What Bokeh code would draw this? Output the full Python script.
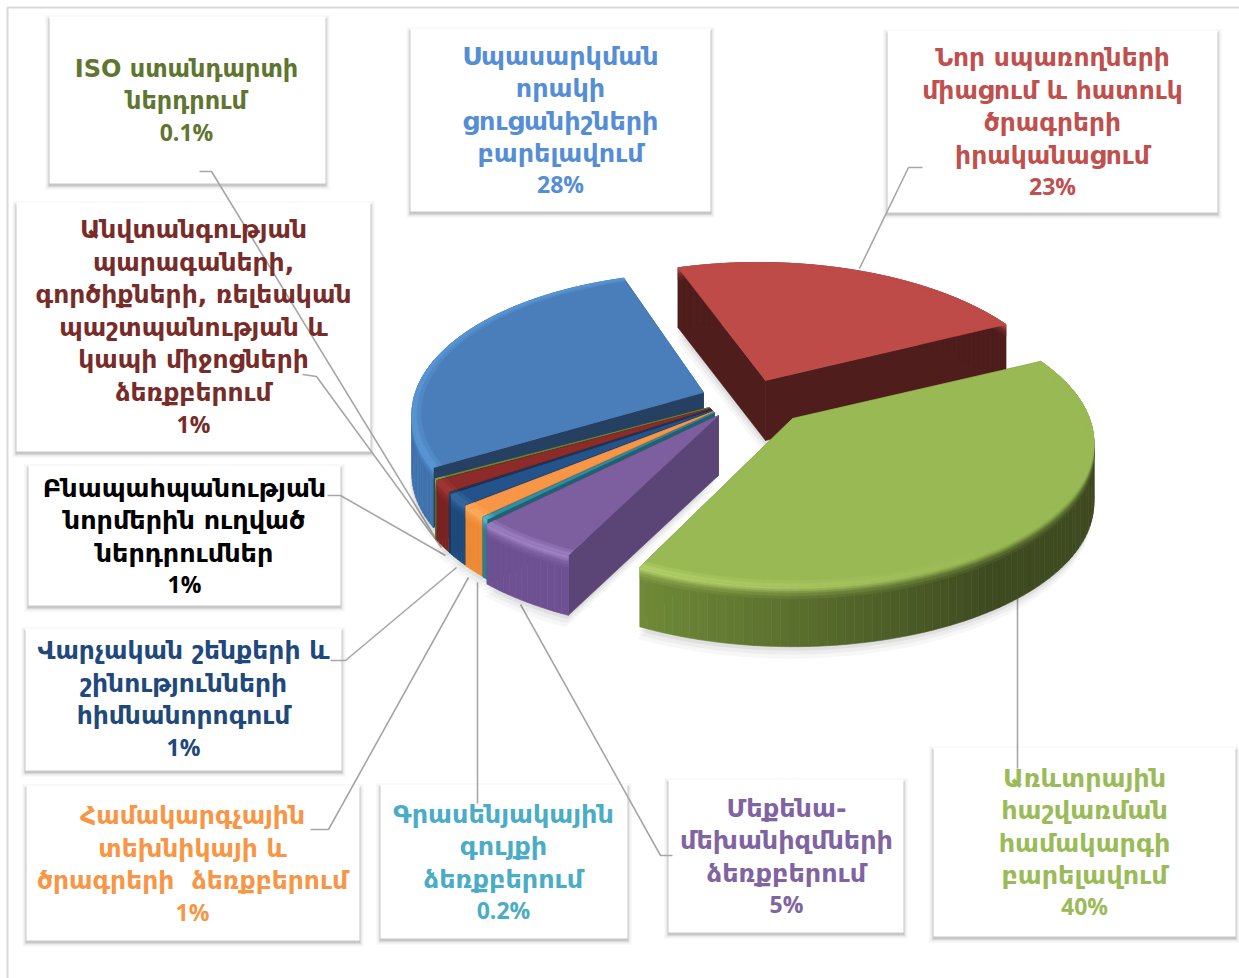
import math
from bokeh.plotting import figure
from bokeh.models import ColumnDataSource, Range1d
from bokeh.core.properties import value
from bokeh.embed import file_html
from bokeh.resources import INLINE

# ---------- data ----------
categories = [
    "Նոր սպառողների միացում և հատուկ ծրագրերի իրականացում",
    "Առևտրային հաշվառման համակարգի բարելավում",
    "Մեքենա-մեխանիզմների ձեռքբերում",
    "Գրասենյակային գույքի ձեռքբերում",
    "Համակարգչային տեխնիկայի և ծրագրերի ձեռքբերում",
    "Վարչական շենքերի և շինությունների հիմնանորոգում",
    "Բնապահպանության նորմերին ուղված ներդրումներ",
    "Անվտանգության պարագաների, գործիքների, ռելեական պաշտպանության և կապի միջոցների ձեռքբերում",
    "ISO ստանդարտի ներդրում",
    "Սպասարկման որակի ցուցանիշների բարելավում",
]
# slice sizes (the labels are rounded)
values = [22.9, 39.4, 5, 0.3, 1.35, 1.35, 0.05, 1.35, 0.1, 28.2]
percent_labels = ["23%", "40%", "5%", "0.2%", "1%", "1%", "1%", "1%", "0.1%", "28%"]
label_lines = [
    ["Նոր սպառողների", "միացում և հատուկ", "ծրագրերի", "իրականացում"],
    ["Առևտրային", "հաշվառման", "համակարգի", "բարելավում"],
    ["Մեքենա-", "մեխանիզմների", "ձեռքբերում"],
    ["Գրասենյակային", "գույքի", "ձեռքբերում"],
    ["Համակարգչային", "տեխնիկայի և", "ծրագրերի\u00a0 ձեռքբերում"],
    ["Վարչական շենքերի և", "շինությունների", "հիմնանորոգում"],
    ["Բնապահպանության", "նորմերին ուղված", "ներդրումներ"],
    ["Անվտանգության", "պարագաների,", "գործիքների, ռելեական", "պաշտպանության և", "կապի միջոցների", "ձեռքբերում"],
    ["ISO ստանդարտի", "ներդրում"],
    ["Սպասարկման", "որակի", "ցուցանիշների", "բարելավում"],
]

# ---------- styling / layout ----------
top_col = ["#be4b48", "#98b954", "#7d5fa0", "#2f8ea8", "#f79646", "#23538a", "#1b3d63", "#8c2b29", "#71893a", "#4a7ebb"]
wall_dark = ["#4f1d1b", "#3e4a20", "#5b4577", "#2b8094", "#d9822f", "#1f4a7c", "#1b3d63", "#6e2220", "#5c7030", "#3f72ae"]
wall_light = ["#4f1d1b", "#6f8a38", "#6e5192", "#2b8094", "#ec8a35", "#1f4a7c", "#1b3d63", "#7a2422", "#5c7030", "#3f72ae"]
glow_col = ["#c05a58", "#b9d56e", "#a487c8", "#5fc0d8", "#ffb060", "#3a6ea8", "#264b74", "#a83a38", "#8ea64d", "#5f9ddc"]
face_col = ["#4f1d1b", "#66802f", "#5b4577", "#225f70", "#b86c2a", "#17375e", "#10263e", "#5a1c1a", "#3f4e20", "#254061"]
text_col = ["#c0504d", "#9bbb59", "#8064a2", "#4bacc6", "#f79646", "#1f497d", "#000000", "#772c2a", "#5f7530", "#558ed5"]
apex = [(765, 380), (792, 418), (718, 415), (714, 412), (713, 411), (712, 410), (711, 409), (710, 408), (709, 407), (703, 392)]
rad = [290, 297, 297, 292, 292, 292, 292, 292, 292, 288]
tilt = [0.47, 0.47, 0.45, 0.45, 0.45, 0.45, 0.45, 0.45, 0.45, 0.48]
persp = [0.155, 0.17, 0.155, 0.155, 0.155, 0.155, 0.155, 0.155, 0.155, 0.155]
skew = [-0.03, 0, 0, 0, 0, 0, 0, 0, 0, 0]
START, DEPTH = -18.5, 60
draw_order = [0, 9, 8, 7, 6, 5, 4, 3, 2, 1]

boxes = [(887, 30, 1217, 212), (933, 747, 1235, 936), (668, 779, 903, 932), (380, 784, 627, 938), (26, 785, 359, 940),
         (25, 628, 341, 770), (28, 465, 340, 605), (16, 202, 370, 451), (49, 16, 325, 183), (410, 28, 710, 211)]
text_x = [1052, 1084, 786, 503, 192, 183, 184, 193, 186, 560]
text_y = [57, 777, 807, 813, 815, 650, 487, 229, 68, 55]
text_size = ["25px", "25.5px", "25.5px", "25.5px", "25px", "25px", "25.5px", "25px", "24px", "25.5px"]
line_gap = 32.6
leaders = [
    [(922, 167), (908, 167), (859, 268)],
    [(1017, 768), (1017, 598)],
    [(672, 855), (660, 855), (520, 604)],
    [(477, 803), (477, 582)],
    [(310, 829), (328, 829), (468, 577)],
    [(330, 660), (345, 660), (456, 567)],
    [(327, 495), (340, 495), (445, 555)],
    [(302, 374), (316, 376), (441, 547)],
    [(199, 171), (211, 171), (437, 541)],
]


def hex2rgb(c):
    return tuple(int(c[i:i + 2], 16) for i in (1, 3, 5))


def mix(a, b, t):
    t = max(0.0, min(1.0, t))
    ra, rb = hex2rgb(a), hex2rgb(b)
    return "#%02x%02x%02x" % tuple(round(ra[i] + (rb[i] - ra[i]) * t) for i in range(3))


def pt(i, theta, f=1.0, h=0.0):
    r = rad[i]
    X, Y = r * f * math.sin(math.radians(theta)), r * f * math.cos(math.radians(theta))
    s = 1.0 / (1.0 + persp[i] * Y / r)
    return apex[i][0] + (X + skew[i] * Y) * s, apex[i][1] - tilt[i] * Y * s + h


total = sum(values)
spans = []
a = START
for v in values:
    spans.append((a, a + v / total * 360.0))
    a = spans[-1][1]


def arc(i, f=1.0, h=0.0, step=2.0):
    a0, a1 = spans[i]
    n = max(2, int((a1 - a0) / step) + 1)
    return [pt(i, a0 + (a1 - a0) * j / n, f, h) for j in range(n + 1)]


p = figure(width=1239, height=978, output_backend="svg", toolbar_location=None,
           x_range=Range1d(0, 1239), y_range=Range1d(978, 0), min_border=0,
           x_axis_location=None, y_axis_location=None, outline_line_color=None)
p.grid.visible = False
p.background_fill_color = "#ffffff"
p.border_fill_color = "#ffffff"

# outer frame
p.line([7, 7, 1239], [978, 7, 7], line_color="#d9d9d9", line_width=2)

# box shadows + boxes
for b in boxes:
    x0, y0, x1, y1 = b
    for d, al in ((4.5, 0.025), (3, 0.04), (1.8, 0.07), (0.8, 0.10)):
        p.quad(left=[x0 - d], right=[x1 + d], top=[y0 - d + 3], bottom=[y1 + d + 2],
               fill_color="#000000", fill_alpha=al, line_color=None)
    p.quad(left=[x0], right=[x1], top=[y0], bottom=[y1], fill_color="#ffffff", line_color=None)

# leader lines
for L in leaders:
    p.line([q[0] for q in L], [q[1] for q in L], line_color="#a6a6a6", line_width=1.6)

# pie
polys = []


def add(points, col):
    polys.append(([q[0] for q in points], [q[1] for q in points], col))


for i in draw_order:
    outline = [(apex[i][0], apex[i][1] + DEPTH)] + arc(i, 1.0, DEPTH)
    for d, al in ((12, 0.03), (8, 0.04), (4, 0.06)):
        p.patch([q[0] - d * 0.2 for q in outline], [q[1] + d for q in outline], fill_color="#000000",
                fill_alpha=al, line_color=None)

bands = [(0, 2, 0.95), (2, 4, 0.75), (4, 6, 0.5), (6, 9, 0.28), (9, 12, 0.12)]
for i in draw_order:
    a0, a1 = spans[i]
    t0, t1 = pt(i, a0), pt(i, a1)
    ax, ay = apex[i]
    add([(ax, ay), t0, (t0[0], t0[1] + DEPTH), (ax, ay + DEPTH)], face_col[i])
    add([(ax, ay), t1, (t1[0], t1[1] + DEPTH), (ax, ay + DEPTH)], face_col[i])
    n = max(2, int((a1 - a0) / 1.5) + 1)
    segs = []
    for j in range(n):
        b0 = a0 + (a1 - a0) * j / n
        b1 = a0 + (a1 - a0) * (j + 1) / n
        t = max(0.0, min(1.0, ((b0 + b1) / 2 - 145.0) / 60.0))
        segs.append((b0, b1, t, mix(wall_dark[i], wall_light[i], t), mix(top_col[i], glow_col[i], t)))
    for b0, b1, t, base, lip in segs:
        add([pt(i, b0, 1, 0), pt(i, b1, 1, 0), pt(i, b1, 1, DEPTH), pt(i, b0, 1, DEPTH)], base)
    for h0, h1, w in reversed(bands):
        for b0, b1, t, base, lip in segs:
            add([pt(i, b0, 1, h0), pt(i, b1, 1, h0), pt(i, b1, 1, h1), pt(i, b0, 1, h1)], mix(base, lip, w))
    add([(ax, ay)] + arc(i), top_col[i])
    for f0, f1, w in ((0.97, 0.985, 0.35), (0.985, 1.0, 0.7)):
        for b0, b1, t, base, lip in segs:
            add([pt(i, b0, f0), pt(i, b1, f0), pt(i, b1, f1), pt(i, b0, f1)], mix(top_col[i], glow_col[i], w * t))

src = ColumnDataSource(dict(xs=[q[0] for q in polys], ys=[q[1] for q in polys], c=[q[2] for q in polys]))
p.patches("xs", "ys", source=src, fill_color="c", line_color="c", line_width=0.6)

# labels
for i in range(len(categories)):
    lines = label_lines[i]
    ys = [text_y[i] + line_gap * k for k in range(len(lines) + 1)]
    p.text([text_x[i]] * len(lines), ys[:-1], text=lines, text_align="center", text_baseline="middle",
           text_color=text_col[i], text_font=value("DejaVu Sans"), text_font_style="bold", text_font_size=text_size[i])
    p.text([text_x[i]], [ys[-1] - 1.5], text=[percent_labels[i]], text_align="center", text_baseline="middle",
           text_color=text_col[i], text_font=value("Open Sans"), text_font_style="bold", text_font_size="23px")

open("out.html", "w").write(file_html(p, INLINE))
